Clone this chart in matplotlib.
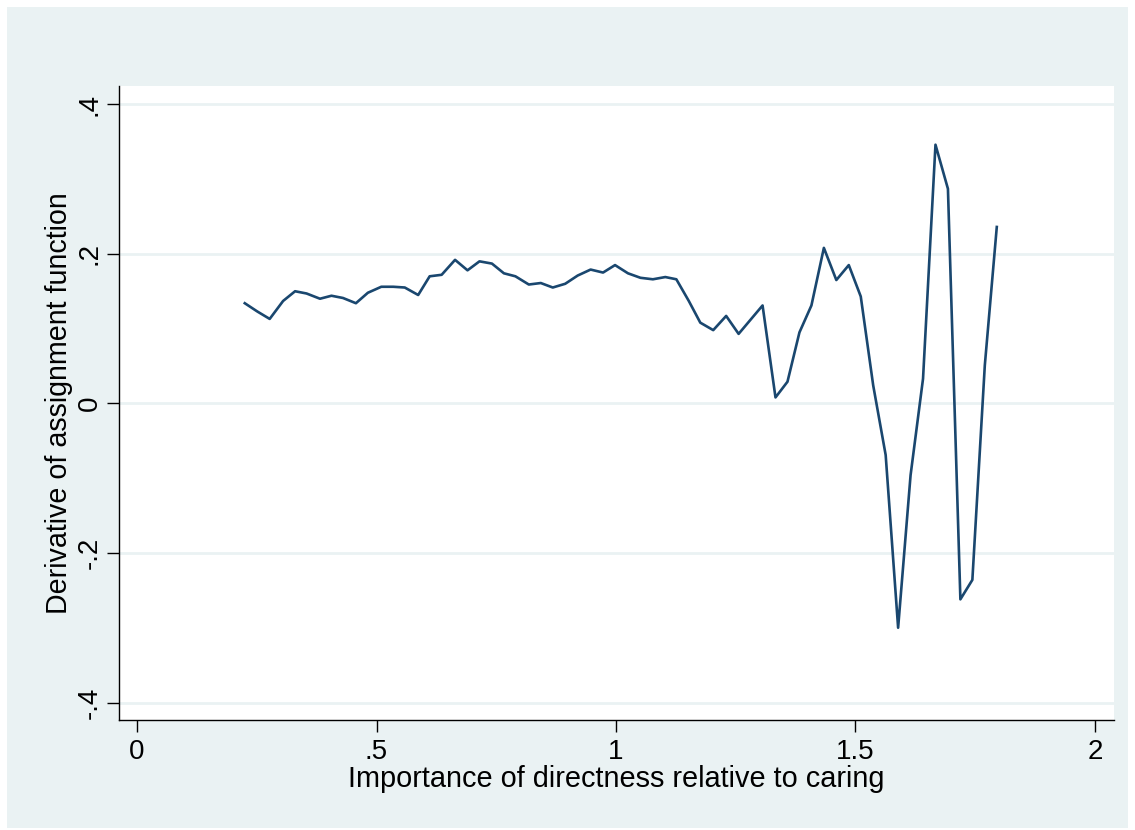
import matplotlib.pyplot as plt
from matplotlib.patches import Rectangle

# data
directness = [
    0.225, 0.251, 0.277, 0.305, 0.330, 0.354, 0.382, 0.406, 0.430, 0.457,
    0.482, 0.510, 0.535, 0.559, 0.587, 0.611, 0.636, 0.664, 0.690, 0.715,
    0.741, 0.766, 0.790, 0.818, 0.843, 0.868, 0.894, 0.920, 0.947, 0.973,
    0.998, 1.025, 1.051, 1.077, 1.103, 1.126, 1.152, 1.176, 1.203, 1.230,
    1.256, 1.281, 1.306, 1.333, 1.358, 1.383, 1.408, 1.434, 1.460, 1.486,
    1.511, 1.537, 1.563, 1.589, 1.615, 1.641, 1.667, 1.693, 1.719, 1.744,
    1.770, 1.795,
]
derivative = [
    0.134, 0.123, 0.113, 0.137, 0.150, 0.147, 0.140, 0.144, 0.141, 0.134,
    0.148, 0.156, 0.156, 0.155, 0.145, 0.170, 0.172, 0.192, 0.178, 0.190,
    0.187, 0.174, 0.170, 0.159, 0.161, 0.155, 0.160, 0.171, 0.179, 0.175,
    0.185, 0.174, 0.168, 0.166, 0.169, 0.166, 0.137, 0.108, 0.098, 0.117,
    0.093, 0.112, 0.131, 0.008, 0.029, 0.095, 0.131, 0.208, 0.165, 0.185,
    0.143, 0.024, -0.069, -0.300, -0.096, 0.033, 0.346, 0.287, -0.262, -0.236,
    0.051, 0.236,
]
xticks = [0, 0.5, 1, 1.5, 2]
xticklabels = ["0", ".5", "1", "1.5", "2"]
yticks = [-0.4, -0.2, 0, 0.2, 0.4]
yticklabels = ["-.4", "-.2", "0", ".2", ".4"]

bg = '#EAF2F3'
navy = '#1A476F'

plt.rcParams['font.family'] = ['Liberation Sans', 'DejaVu Sans']

fig = plt.figure(figsize=(11.35, 8.3), dpi=100)
fig.patch.set_facecolor('white')
# graph region (behind the axes)
fig.patches.append(Rectangle((7/1135, 2/830), 1121/1135, 821/830,
                             transform=fig.transFigure, facecolor=bg,
                             edgecolor='none', zorder=-10))

ax = fig.add_axes([119/1135, 1 - 720.3/830, 995/1135, 634.3/830])
ax.set_facecolor('white')

for yv in yticks:
    ax.axhline(yv, color=bg, linewidth=2.0, zorder=1)

ax.plot(directness, derivative, color=navy, linewidth=1.9, zorder=3)

ax.set_xlim(-0.0376, 2.0397)
ax.set_ylim(-0.4238, 0.4245)
ax.set_xticks(xticks)
ax.set_xticklabels(xticklabels)
ax.set_yticks(yticks)
ax.set_yticklabels(yticklabels, rotation=90, va='center')
ax.tick_params(axis='both', length=8.6, width=1.0, labelsize=20,
               color='black')
ax.tick_params(axis='y', pad=3)
ax.tick_params(axis='x', pad=5)

for s in ['top', 'right']:
    ax.spines[s].set_visible(False)
for s in ['left', 'bottom']:
    ax.spines[s].set_linewidth(1.0)

ax.set_xlabel('Importance of directness relative to caring', fontsize=20.8,
              labelpad=0)
ax.set_ylabel('Derivative of assignment function', fontsize=20.6,
              labelpad=3)

fig.savefig('out.png', dpi=100, facecolor=fig.get_facecolor())
